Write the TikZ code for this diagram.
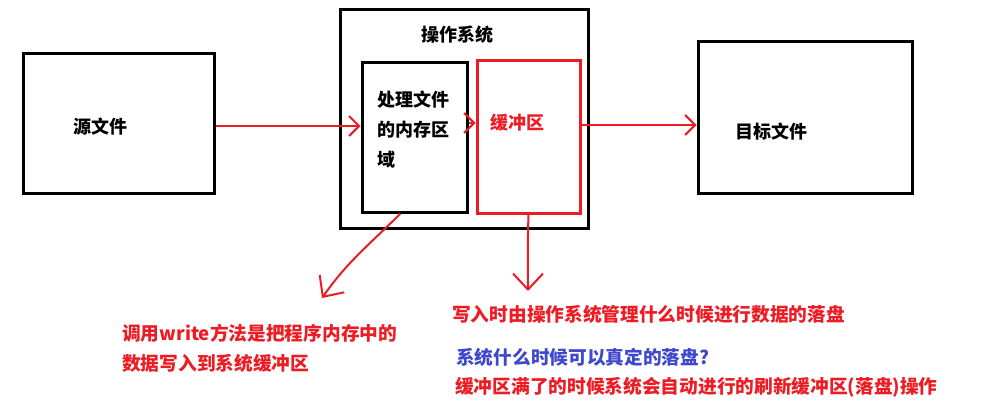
\documentclass[tikz,border=0pt]{standalone}
\usepackage{fontspec}
\setmainfont{Noto Sans CJK SC}
\usepackage{tikz}
\usetikzlibrary{
  arrows.meta,
  positioning
}
\definecolor{inkblack}{RGB}{0, 0, 0}
\definecolor{inkred}{RGB}{237, 28, 36}
\definecolor{inkblue}{RGB}{63, 72, 204}
\tikzset{
boxtext/.style={
  font=\fontsize{18}{30}\selectfont\bfseries,
  inner sep=0pt,
  align=left
},
filebox/.style={
  draw=inkblack,
  line width=3pt,
  inner sep=0pt
},
membox/.style={
  filebox
},
bufbox/.style={
  filebox,
  draw=inkred
},
notetext/.style={
  boxtext,
  font=\fontsize{18.7}{30}\selectfont\bfseries,
  text=inkred,
  anchor=west
},
redarrow/.style={
  -{Straight Barb[length=10pt,width=20pt,line width=2pt]},
  line width=2pt,
  draw=inkred
},
widearrow/.style={
  redarrow,
  -{Straight Barb[length=16pt,width=30pt,line width=2pt]}
}
}

\begin{document}
\begin{tikzpicture}[x=1pt,y=-1pt]
    \useasboundingbox (0,0) rectangle (983,405);

    % files
    \node[filebox, minimum width=191pt, minimum height=140pt] (src) at (118.5,123) {};
    \node[boxtext, anchor=west] (srclabel) at (73,127) {源文件};
    \node[filebox, minimum width=214pt, minimum height=152pt] (dst) at (805,117.5) {};
    \node[boxtext, anchor=west] (dstlabel) at (735,132) {目标文件};

    % operating system
    \node[filebox, minimum width=248pt, minimum height=219pt] (os) at (464,118.5) {};
    \node[boxtext] (ostitle) at (457,35) {操作系统};
    \node[membox, minimum width=105pt, minimum height=150pt] (mem) at (414.5,137) {};
    \node[boxtext, anchor=west] (memlabel) at (377,130) {处理文件\\的内存区\\域};
    \node[bufbox, minimum width=103pt, minimum height=153pt] (buf) at (528.5,136.5) {};
    \node[boxtext, text=inkred, anchor=west] (buflabel) at (490,123) {缓冲区};

    % data flow
    \draw[redarrow] (src.east |- 0,126) -- (mem.west |- 0,126);
    \draw[redarrow] (mem.east |- 0,123) -- (buf.west |- 0,123);
    \draw[redarrow] (buf.east |- 0,125) -- (dst.west |- 0,125);

    % notes
    \coordinate (memnote) at (322,298);
    \coordinate (bufnote) at (528,291);
    \draw[widearrow] ([xshift=-14pt]mem.south) to[out=-135,in=55] (memnote);
    \draw[widearrow] (buf.south) to[out=-92,in=90] (bufnote);

    \node[notetext] (writenote) at (122,333) {调用write方法是把程序内存中的};
    \node[notetext] (writenote2) at (122,363) {数据写入到系统缓冲区};
    \node[notetext] (flushnote) at (452,314) {写入时由操作系统管理什么时候进行数据的落盘};
    \node[notetext, text=inkblue] (question) at (456,357) {系统什么时候可以真定的落盘?};
    \node[notetext] (answer) at (455,387) {缓冲区满了的时候系统会自动进行的刷新缓冲区(落盘)操作};

  \end{tikzpicture}
\end{document}
